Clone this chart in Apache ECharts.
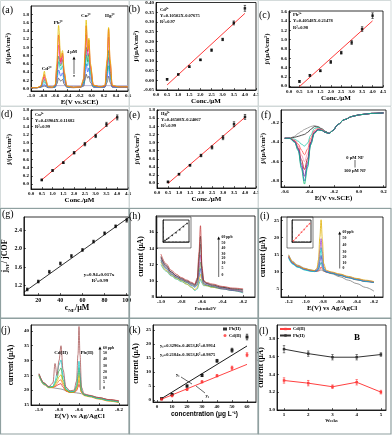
<!DOCTYPE html>
<html><head><meta charset="utf-8">
<script src="https://cdn.jsdelivr.net/npm/echarts@6/dist/echarts.min.js"></script>
<style>html,body{margin:0;padding:0;background:#fff}#c{width:392px;height:435px}</style>
</head><body><div id="c"></div>
<script>
// ================= DATA =================
// (a) DPV curves
const aX = [-1.0,-0.9,-0.84,-0.8,-0.78,-0.76,-0.72,-0.65,-0.6,-0.575,-0.545,-0.51,-0.48,-0.45,-0.41,-0.3,-0.18,-0.13,-0.11,-0.09,-0.065,-0.045,-0.02,0.03,0.15,0.22,0.255,0.28,0.305,0.34,0.45,0.6];
const aYellow = [0.02,0.02,0.06,0.28,0.42,0.26,0.05,0.03,0.1,0.6,1.53,0.75,0.92,0.4,0.06,0.03,0.04,0.25,0.9,1.66,0.95,1.22,0.6,0.08,0.04,0.08,0.7,1.48,0.7,0.08,0.04,0.04];
const aRed = [0.02,0.02,0.05,0.23,0.34,0.22,0.05,0.03,0.08,0.5,1.30,0.65,0.86,0.36,0.06,0.03,0.04,0.22,0.82,1.52,0.9,1.18,0.55,0.08,0.04,0.07,0.66,1.45,0.66,0.07,0.04,0.04];
const aMagenta = [0.02,0.02,0.05,0.2,0.28,0.19,0.04,0.03,0.07,0.42,1.05,0.6,0.8,0.32,0.05,0.03,0.04,0.2,0.72,1.3,0.8,1.05,0.5,0.07,0.04,0.06,0.57,1.25,0.57,0.06,0.04,0.04];
const aGreen = [0.02,0.02,0.04,0.16,0.22,0.15,0.04,0.03,0.06,0.32,0.78,0.55,0.7,0.28,0.05,0.03,0.04,0.15,0.55,1.0,0.65,0.85,0.4,0.06,0.04,0.05,0.42,0.92,0.42,0.05,0.04,0.04];
const aCyan = [0.02,0.02,0.04,0.12,0.16,0.11,0.03,0.03,0.05,0.27,0.65,0.45,0.55,0.22,0.04,0.03,0.04,0.13,0.45,0.82,0.55,0.7,0.33,0.05,0.04,0.05,0.35,0.75,0.35,0.05,0.04,0.04];
const aBlue = [0.02,0.02,0.03,0.08,0.10,0.07,0.03,0.03,0.04,0.19,0.45,0.3,0.38,0.16,0.04,0.03,0.03,0.1,0.33,0.6,0.4,0.5,0.24,0.04,0.03,0.04,0.26,0.55,0.26,0.04,0.03,0.03];
const aDark = [0.02,0.02,0.03,0.05,0.06,0.05,0.02,0.02,0.03,0.11,0.25,0.18,0.22,0.1,0.03,0.02,0.03,0.06,0.2,0.35,0.25,0.3,0.15,0.03,0.03,0.03,0.15,0.3,0.15,0.03,0.03,0.03];
const aFlatX = [-0.85, 0.6];
const aFlatY = [0.07, 0.07];

// (b)-(e) calibration
const conc = [0.5,1.0,1.5,2.0,2.5,3.0,3.5,4.0];
const bY = [0.005,0.03,0.07,0.105,0.155,0.21,0.295,0.37];
const bErr = [0.004,0.003,0.004,0.004,0.006,0.006,0.01,0.015];
const bFit = [[0.5,-0.024],[4.0,0.344]];
const cY = [0.1,0.23,0.33,0.52,0.72,0.94,1.23,1.52];
const cErr = [0.02,0.02,0.02,0.03,0.03,0.04,0.05,0.06];
const cFit = [[0.5,-0.012],[4.0,1.407]];
const dY = [0.1,0.33,0.52,0.76,0.97,1.17,1.45,1.62];
const dErr = [0.02,0.02,0.02,0.03,0.04,0.04,0.05,0.06];
const dFit = [[0.5,0.103],[4.0,1.639]];
const eY = [0.03,0.22,0.44,0.68,0.88,1.12,1.45,1.63];
const eErr = [0.02,0.02,0.02,0.03,0.04,0.05,0.06,0.06];
const eFit = [[0.5,-0.008],[4.0,1.62]];

// (f) NF curves
const fX = [-0.6,-0.56,-0.52,-0.49,-0.465,-0.44,-0.415,-0.39,-0.36,-0.33,-0.3,-0.27,-0.24,-0.21,-0.17,-0.12,-0.05,0.0,0.1,0.2];
const f0 = [-0.36,-0.36,-0.34,-0.31,-0.29,-0.27,-0.255,-0.24,-0.23,-0.24,-0.26,-0.29,-0.31,-0.28,-0.22,-0.17,-0.135,-0.12,-0.105,-0.1];
const f1 = [-0.36,-0.36,-0.35,-0.34,-0.33,-0.32,-0.3,-0.27,-0.24,-0.245,-0.265,-0.29,-0.31,-0.28,-0.22,-0.17,-0.135,-0.12,-0.105,-0.1];
const f2 = [-0.36,-0.36,-0.37,-0.39,-0.42,-0.44,-0.41,-0.33,-0.26,-0.25,-0.27,-0.295,-0.31,-0.28,-0.22,-0.17,-0.135,-0.12,-0.105,-0.1];
const f3 = [-0.36,-0.36,-0.38,-0.42,-0.48,-0.53,-0.47,-0.36,-0.28,-0.26,-0.27,-0.3,-0.31,-0.28,-0.22,-0.17,-0.135,-0.12,-0.105,-0.1];
const f4 = [-0.36,-0.36,-0.385,-0.44,-0.53,-0.6,-0.52,-0.38,-0.29,-0.265,-0.275,-0.3,-0.31,-0.28,-0.22,-0.17,-0.135,-0.12,-0.105,-0.1];
const f5 = [-0.36,-0.36,-0.39,-0.46,-0.58,-0.68,-0.57,-0.4,-0.3,-0.27,-0.28,-0.3,-0.31,-0.28,-0.22,-0.17,-0.135,-0.12,-0.105,-0.1];
const f6 = [-0.36,-0.36,-0.39,-0.47,-0.62,-0.75,-0.61,-0.41,-0.3,-0.27,-0.28,-0.3,-0.31,-0.28,-0.22,-0.17,-0.135,-0.12,-0.105,-0.1];
const f7 = [-0.36,-0.36,-0.4,-0.48,-0.65,-0.8,-0.64,-0.42,-0.31,-0.275,-0.28,-0.3,-0.31,-0.28,-0.22,-0.17,-0.135,-0.12,-0.105,-0.1];
const f8 = [-0.36,-0.36,-0.4,-0.49,-0.67,-0.83,-0.66,-0.43,-0.31,-0.275,-0.28,-0.3,-0.31,-0.28,-0.22,-0.17,-0.135,-0.12,-0.105,-0.1];

// (g) ratio vs NF
const gX = [10,20,30,40,50,60,70,80,90,100];
const gY = [1.12,1.29,1.50,1.68,1.84,1.97,2.15,2.33,2.48,2.61];
const gErr = [0.03,0.03,0.03,0.03,0.03,0.03,0.03,0.03,0.03,0.04];
const gFit = [[7,1.06],[103,2.69]];

// (h) Pb DPV
const hX = [-1.0,-0.95,-0.9,-0.85,-0.8,-0.75,-0.7,-0.67,-0.645,-0.63,-0.615,-0.6,-0.585,-0.56,-0.5,-0.4,-0.3,-0.2];
const h0 = [12.0,11.2,10.6,10.2,9.9,9.6,9.2,8.8,9.0,9.6,10.2,9.7,9.4,9.4,9.2,9.0,8.8,8.5];
const h5 = [12.3,11.3,10.7,10.3,10.0,9.6,9.2,8.9,9.2,10.0,10.8,10.0,9.5,9.4,9.2,9.0,8.8,8.6];
const h10 = [12.5,11.5,10.8,10.4,10.1,9.8,9.4,9.2,9.5,10.5,11.5,10.3,9.6,9.5,9.3,9.0,8.8,8.6];
const h20 = [12.6,11.6,10.9,10.4,10.1,9.8,9.5,9.3,9.7,11.0,12.3,10.6,9.7,9.5,9.3,9.1,8.9,8.7];
const h30 = [12.8,11.7,11.0,10.5,10.2,9.9,9.6,9.4,9.9,11.6,13.2,10.9,9.8,9.6,9.4,9.1,8.9,8.7];
const h40 = [12.9,11.8,11.1,10.6,10.2,9.9,9.6,9.4,10.0,12.2,14.5,11.2,9.9,9.7,9.4,9.2,9.0,8.8];
const h50 = [13.0,11.9,11.1,10.6,10.3,10.0,9.7,9.5,10.2,12.8,15.5,11.5,10.0,9.7,9.5,9.2,9.0,8.9];
const h60 = [13.3,12.1,11.3,10.8,10.4,10.1,9.8,9.6,10.4,13.5,16.8,11.8,10.1,9.8,9.6,9.3,9.1,9.0];
const hInsX = [0,5,10,20,30,40,50,60];
const hInsY = [0.6,1.1,1.6,2.7,3.8,5.0,6.3,7.6];
const hInsFit = [[0,0.5],[60,7.7]];
const hScale = ['60 ppb','50','40','30','20','10','5','0'];

// (i) Pb DPV 2
const iX = [-1.2,-1.15,-1.1,-1.0,-0.95,-0.9,-0.87,-0.85,-0.835,-0.82,-0.805,-0.79,-0.76,-0.7,-0.6,-0.5,-0.4,-0.3,-0.2];
const iGray = [15.0,13.0,12.0,11.0,10.6,10.4,10.3,10.3,10.4,10.6,10.4,10.2,10.0,9.5,8.6,7.6,6.6,5.5,4.4];
const iRed = [14.5,12.6,11.7,10.8,10.4,10.2,10.2,10.3,10.7,11.5,10.9,10.3,9.9,9.6,9.0,8.3,7.7,7.2,6.9];
const iTeal = [14.2,12.4,11.5,10.6,10.3,10.1,10.2,10.6,11.9,12.8,11.5,10.4,10.0,9.6,9.0,8.3,7.7,7.2,6.9];
const iBlue = [14.4,12.5,11.6,10.7,10.4,10.2,10.4,11.0,13.0,14.8,12.6,10.8,10.1,9.7,9.1,8.4,7.8,7.3,7.0];
const iCyan = [14.0,12.2,11.4,10.5,10.2,10.1,10.5,11.5,14.5,17.1,14.0,11.0,10.1,9.7,9.1,8.4,7.8,7.3,7.0];
const iPurple = [14.6,12.6,11.7,10.8,10.5,10.3,10.7,12.2,16.5,19.7,16.0,11.6,10.3,9.9,9.3,8.6,8.0,7.5,7.1];
const iYellow = [14.8,12.8,11.8,10.9,10.6,10.4,11.0,13.5,20.0,25.2,19.5,12.5,10.5,10.0,9.4,8.7,8.1,7.6,7.2];
const iInsX = [0,10,20,30,40,50,60];
const iInsY = [0.5,1.6,2.8,4.0,5.1,6.4,7.5];
const iInsFit = [[0,0.4],[60,7.6]];
const iScale = ['60 ppb','50','40','30','20','10','0'];

// (j) Cd + Pb DPV
const jX = [-1.0,-0.95,-0.9,-0.86,-0.84,-0.82,-0.8,-0.78,-0.76,-0.73,-0.69,-0.65,-0.625,-0.61,-0.6,-0.59,-0.575,-0.55,-0.5,-0.4,-0.3,-0.2];
const jBrown = [25.5,22.5,21.2,22.5,29.0,25.0,30.0,35.0,27.0,21.0,19.8,20.0,23.0,32.0,41.5,32.0,21.0,18.8,18.3,17.5,16.8,16.3];
const jCyan = [25.0,22.0,21.0,21.3,23.0,25.5,28.5,30.2,25.0,20.5,19.5,19.6,21.5,26.0,29.8,26.0,20.0,18.5,18.0,17.2,16.5,16.0];
const jGreen = [25.2,22.2,21.0,21.2,22.3,24.0,26.5,27.5,23.5,20.2,19.4,19.5,21.0,24.5,27.5,24.5,19.8,18.4,18.0,17.2,16.5,16.0];
const jYellow = [25.0,22.0,20.9,21.0,21.8,23.0,24.5,25.2,22.5,20.0,19.3,19.4,20.5,23.0,25.0,23.0,19.5,18.3,17.9,17.1,16.4,15.9];
const jOrange = [24.8,21.8,20.8,20.9,21.4,22.2,23.2,23.5,21.8,19.8,19.2,19.3,20.2,22.0,23.5,22.0,19.3,18.2,17.8,17.0,16.3,15.8];
const jRed = [25.3,22.3,21.0,21.0,21.2,21.6,22.0,22.2,21.0,19.7,19.2,19.3,19.8,21.0,22.0,21.0,19.2,18.4,18.1,17.4,16.8,16.4];
const jGray = [25.6,22.4,21.0,20.8,20.7,20.6,20.5,20.4,20.2,19.8,19.4,19.2,19.1,19.0,19.0,18.9,18.8,18.6,18.2,17.5,16.8,16.2];
const jScale = ['60 ppb','50','40','30','20','10','5','0'];

// (k) calibration Pb / Cd
const kX = [3,10,20,30,40,50,60];
const kPb = [0.5,2.0,5.0,8.8,14.0,17.8,22.5];
const kPbErr = [0.2,0.3,0.4,0.4,0.5,0.7,1.0];
const kCd = [0.3,1.5,3.8,6.5,8.7,11.5,16.2];
const kCdErr = [0.2,0.3,0.3,0.4,0.4,0.6,0.7];
const kPbFit = [[3,0.52],[60,19.31]];
const kCdFit = [[3,0.29],[60,12.74]];

// (l) stability
const lWeeks = [1,2,3,4,5];
const lPb = [3.68,3.63,3.59,3.59,3.62];
const lPbErr = [0.04,0.03,0.03,0.03,0.02];
const lCd = [3.33,3.30,3.26,3.31,3.20];
const lCdErr = [0.03,0.03,0.02,0.03,0.02];

// tick labels
const tA_x = [-1.0,-0.8,-0.6,-0.4,-0.2,0.0,0.2,0.4,0.6];
const t0to18 = [0,0.2,0.4,0.6,0.8,1.0,1.2,1.4,1.6,1.8];
const t0to16 = [0,0.2,0.4,0.6,0.8,1.0,1.2,1.4,1.6];
const tConc = [0,0.5,1.0,1.5,2.0,2.5,3.0,3.5,4.0,4.5];
const tB_y = [-0.05,0,0.05,0.10,0.15,0.20,0.25,0.30,0.35,0.40];
const tF_x = [-0.6,-0.4,-0.2,0.0,0.2];
const tF_y = [-0.8,-0.6,-0.4,-0.2];
const tG_x = [20,40,60,80,100];
const tG_y = [1.2,1.6,2.0,2.4];
const tH_x = [-1.0,-0.8,-0.6,-0.4,-0.2];
const tH_y = [8,10,12,14,16];
const tI_x = [-1.2,-1.0,-0.8,-0.6,-0.4,-0.2];
const tI_y = [5,10,15,20,25];
const tJ_y = [15,20,25,30,35,40];
const tK_x = [0,10,20,30,40,50,60];
const tK_y = [0,5,10,15,20,25];
const tL_x = [1,2,3,4,5];
const tL_y = [3.0,3.2,3.4,3.6,3.8];
const tIns_x = [0,20,40,60];
const tIns_y = [0,3,6,9];

// ================= BUILD =================
const SERIF = 'Liberation Serif';
const SANS = 'Liberation Sans';
const fmt = (v, d) => { const n = +v; return (Math.abs(n) < 1e-9 ? 0 : n).toFixed(d); };
const zip = (xs, ys) => xs.map((x, i) => [x, ys[i]]);

const grids = [
  {left:31, top:6, width:97, height:85},     // a
  {left:156, top:2, width:100, height:88},   // b
  {left:289, top:11, width:94, height:76},   // c
  {left:31, top:110, width:97, height:79},   // d
  {left:157, top:110, width:99, height:78},  // e
  {left:281, top:110, width:105, height:77}, // f
  {left:23, top:217, width:107, height:78},  // g
  {left:156, top:216, width:99, height:81},  // h
  {left:281, top:217, width:102, height:80}, // i
  {left:31, top:325, width:97, height:80},   // j
  {left:153, top:325, width:103, height:77}, // k
  {left:277, top:325, width:109, height:85}, // l
  {left:163, top:220, width:26, height:22},  // h inset
  {left:292, top:220, width:19, height:22}   // i inset
].map(g => Object.assign({show:true, borderColor:'#000', borderWidth:0.8, backgroundColor:'rgba(0,0,0,0)'}, g));

function axis(gi, min, max, ticks, dec, name, gap, nts, extra) {
  return Object.assign({
    type:'value', gridIndex:gi, min, max,
    axisLine:{show:true, onZero:false, lineStyle:{color:'#000', width:0.8}},
    axisTick:{show:true, inside:true, length:2, customValues:ticks, lineStyle:{color:'#000', width:0.6}},
    axisLabel:{show:true, customValues:ticks, fontSize:5, fontWeight:'bold', fontFamily:SERIF, color:'#000', margin:2,
      formatter: v => fmt(v, dec)},
    splitLine:{show:false},
    name, nameLocation:'middle', nameGap:gap,
    nameTextStyle:Object.assign({fontSize:7, fontWeight:'bold', fontFamily:SERIF, color:'#000'}, nts || {})
  }, extra || {});
}
const jName = 'j/(μA/cm²)';
const curName = 'current (μA)';
const subRich = {b:{fontSize:8, fontWeight:'bold', fontFamily:SERIF, color:'#000'}, s:{fontSize:5, fontWeight:'bold', fontFamily:SERIF, color:'#000', verticalAlign:'bottom', lineHeight:11}};
const insetExtra = {axisLabel:{show:false}, axisTick:{show:true, inside:true, length:1, lineStyle:{width:0.4}}, axisLine:{onZero:false, lineStyle:{color:'#000', width:0.5}}};

const xAxes = [
  axis(0, -1.0, 0.6, tA_x, 1, 'E(V vs.SCE)', 4.5),
  axis(1, 0, 4.5, tConc, 1, 'Conc./μM', 6),
  axis(2, 0, 4.5, tConc, 1, 'Conc./μM', 8),
  axis(3, 0, 4.5, tConc, 1, 'Conc./μM', 6),
  axis(4, 0, 4.5, tConc, 1, 'Conc./μM', 7),
  axis(5, -0.63, 0.22, tF_x, 1, 'E(V vs.SCE)', 6.5),
  axis(6, 7, 103, tG_x, 0, '{b|c}{s|NF}{b|/μM}', 5, {rich:subRich}, {axisLabel:{customValues:tG_x, fontSize:6, fontWeight:'bold', fontFamily:SERIF, color:'#000', margin:2}}),
  axis(7, -1.048, -0.084, tH_x, 1, 'Potential/V', 9, {fontSize:4.5}),
  axis(8, -1.29, -0.094, tI_x, 1, 'E(V) vs Ag/AgCl', 4),
  axis(9, -1.08, -0.11, tH_x, 1, 'E(V) vs Ag/AgCl', 6),
  axis(10, -2.7, 66, tK_x, 0, 'concentration (μg L⁻¹)', 8.5, {fontFamily:SANS, fontSize:6.5}),
  axis(11, 0.71, 5.21, tL_x, 0, 'Weeks', 7.5, {fontSize:4.5}),
  axis(12, -5, 65, tIns_x, 0, '', 0, null, insetExtra),
  axis(13, -5, 65, tIns_x, 0, '', 0, null, insetExtra)
];
const yAxes = [
  axis(0, -0.06, 2.0, t0to18, 1, jName, 19),
  axis(1, -0.05, 0.40, tB_y, 2, jName, 15.5),
  axis(2, -0.02, 1.62, t0to16, 1, jName, 18.5),
  axis(3, -0.12, 1.8, t0to18, 1, jName, 18.5),
  axis(4, -0.12, 1.8, t0to18, 1, jName, 16),
  axis(5, -0.86, -0.07, tF_y, 1, jName, 12.5),
  axis(6, 1.0, 2.68, tG_y, 1, '{b|j}{s|NF}{b|/ jCOF}', 11, {rich:subRich}, {axisLabel:{customValues:tG_y, fontSize:6, fontWeight:'bold', fontFamily:SERIF, color:'#000', margin:2, formatter:v=>fmt(v,1)}}),
  axis(7, 8, 18, tH_y, 0, curName, 6.5, {fontSize:7.5}),
  axis(8, 2.7, 26, tI_y, 0, curName, 14, {fontSize:7.5}),
  axis(9, 15, 42, tJ_y, 0, curName, 15.5, {fontSize:7.5}),
  axis(10, -0.7, 26.8, tK_y, 0, curName, 12.5, {fontSize:7.5}),
  axis(11, 3.0, 3.95, tL_y, 1, curName, 10, {fontSize:7.5}),
  axis(12, 0, 9, tIns_y, 0, '', 0, null, insetExtra),
  axis(13, 0, 9, tIns_y, 0, '', 0, null, insetExtra)
];

const series = [];
function curve(gi, xs, ys, color, w, smooth) {
  series.push({type:'line', xAxisIndex:gi, yAxisIndex:gi, data:zip(xs, ys), symbol:'none', showSymbol:false,
    smooth: smooth === undefined ? 0.35 : smooth, smoothMonotone:'x', lineStyle:{color, width:w || 0.8}, silent:true, z:3});
}
function pairLine(gi, pairs, color, w, name) {
  series.push({type:'line', name, xAxisIndex:gi, yAxisIndex:gi, data:pairs, symbol:'none', lineStyle:{color, width:w || 0.9}, silent:true, z:3});
}
function pts(gi, xs, ys, color, symbol, size, name) {
  series.push({type:'scatter', name, xAxisIndex:gi, yAxisIndex:gi, data:zip(xs, ys), symbol, symbolSize:size, itemStyle:{color}, silent:true, z:6});
}
function errs(gi, xs, ys, es, color) {
  series.push({type:'custom', xAxisIndex:gi, yAxisIndex:gi, z:5, silent:true,
    data: xs.map((x, i) => [x, ys[i] - es[i], ys[i] + es[i]]),
    encode:{x:0, y:[1, 2]},
    renderItem(params, api) {
      const x = api.value(0), lo = api.coord([x, api.value(1)]), hi = api.coord([x, api.value(2)]), w = 1.2;
      const st = {stroke:color, lineWidth:0.6};
      return {type:'group', children:[
        {type:'line', shape:{x1:lo[0], y1:lo[1], x2:hi[0], y2:hi[1]}, style:st},
        {type:'line', shape:{x1:lo[0]-w, y1:lo[1], x2:lo[0]+w, y2:lo[1]}, style:st},
        {type:'line', shape:{x1:hi[0]-w, y1:hi[1], x2:hi[0]+w, y2:hi[1]}, style:st}]};
    }});
}

// (a)
curve(0, aFlatX, aFlatY, '#a9a3c9', 0.8, false);
[[aDark,'#555555'],[aBlue,'#3a5cff'],[aCyan,'#10c8d0'],[aGreen,'#22a84e'],[aMagenta,'#f03cc8'],[aRed,'#ff2a2a'],[aYellow,'#e2c000']]
  .forEach(([d, c]) => curve(0, aX, d, c, 0.8));
// (b)-(e)
[[1,bY,bErr,bFit],[2,cY,cErr,cFit],[3,dY,dErr,dFit],[4,eY,eErr,eFit]].forEach(([gi, ys, es, fit]) => {
  pairLine(gi, fit, '#ff3a3a', 1);
  errs(gi, conc, ys, es, '#000');
  pts(gi, conc, ys, '#000', 'rect', 2.5);
});
// (f)
[[f0,'#8c8c8c'],[f1,'#222222'],[f2,'#1fc7a6'],[f3,'#ff5050'],[f4,'#ff8fb0'],[f5,'#b01010'],[f6,'#8a1a8a'],[f7,'#3048e0'],[f8,'#10c070']]
  .forEach(([d, c]) => curve(5, fX, d, c, 0.8));
// (g)
pairLine(6, gFit, '#000', 0.8);
errs(6, gX, gY, gErr, '#000');
pts(6, gX, gY, '#000', 'rect', 2.5);
// (h)
[[h0,'#20b0a0'],[h5,'#e0b000'],[h10,'#3050e0'],[h20,'#40b040'],[h30,'#c040c0'],[h40,'#7a7a7a'],[h50,'#303030'],[h60,'#c03030']]
  .forEach(([d, c]) => curve(7, hX, d, c, 0.7));
pairLine(12, hInsFit, '#000', 0.5);
pts(12, hInsX, hInsY, '#000', 'rect', 1.5);
// (i)
[[iGray,'#7d7d7d'],[iRed,'#ff3a3a'],[iTeal,'#1f9f9f'],[iBlue,'#3a3ac0'],[iCyan,'#10c8c8'],[iPurple,'#a048c8'],[iYellow,'#e0b000']]
  .forEach(([d, c]) => curve(8, iX, d, c, 0.8));
pairLine(13, iInsFit, '#ff4040', 0.5);
pts(13, iInsX, iInsY, '#ff4040', 'rect', 1.5);
// (j)
[[jGray,'#808080'],[jRed,'#e03030'],[jOrange,'#f08030'],[jYellow,'#e0c000'],[jGreen,'#40b040'],[jCyan,'#20c8c8'],[jBrown,'#a85858']]
  .forEach(([d, c]) => curve(9, jX, d, c, 0.8));
// (k)
pairLine(10, kPbFit, '#000', 0.9);
pairLine(10, kCdFit, '#ff3030', 0.9);
errs(10, kX, kPb, kPbErr, '#000');
errs(10, kX, kCd, kCdErr, '#ff3030');
pts(10, kX, kPb, '#000', 'rect', 3, 'Pb(II)');
pts(10, kX, kCd, '#ff3030', 'circle', 3, 'Cd(II)');
// (l)
errs(11, lWeeks, lPb, lPbErr, '#333');
errs(11, lWeeks, lCd, lCdErr, '#ff3030');
series.push({type:'line', name:'Cd(II) ', xAxisIndex:11, yAxisIndex:11, data:zip(lWeeks, lCd), symbol:'rect', symbolSize:2.5,
  lineStyle:{color:'#ff4040', width:1}, itemStyle:{color:'#ff4040'}, silent:true, z:6});
series.push({type:'line', name:'Pb(II) ', xAxisIndex:11, yAxisIndex:11, data:zip(lWeeks, lPb), symbol:'rect', symbolSize:2.5,
  lineStyle:{color:'#333', width:1}, itemStyle:{color:'#333'}, silent:true, z:6});

// ================= ANNOTATIONS =================
const G = [];
const T = (x, y, text, o) => G.push({type:'text', x, y, silent:true, z:50, style:Object.assign({text, fontSize:5, fontWeight:'bold', fontFamily:SERIF, fill:'#000', align:'left', verticalAlign:'middle'}, o || {})});
const L = (x1, y1, x2, y2, c, w) => G.push({type:'line', silent:true, z:50, shape:{x1, y1, x2, y2}, style:{stroke:c || '#000', lineWidth:w || 0.6}});
const ARW = (x, y, c) => G.push({type:'polygon', silent:true, z:50, shape:{points:[[x, y], [x - 1.5, y + 3], [x + 1.5, y + 3]]}, style:{fill:c || '#000'}});
const R = (x, y, w, h, c, lw) => G.push({type:'rect', silent:true, z:1, shape:{x, y, width:w, height:h}, style:{fill:'none', stroke:c, lineWidth:lw || 1}});

// panel frames
const colX = [[0.5,129],[129.5,258],[258.5,391]];
const rowY = [[0.5,106],[106.5,208],[208.5,318],[318.5,434]];
rowY.forEach(([y0, y1], r) => colX.forEach(([x0, x1]) => R(x0, y0, x1 - x0, y1 - y0, r < 2 ? '#c9d2d2' : '#8fa0a0', r < 2 ? 0.8 : 1.2)));

// panel labels
const PL = {fontSize:10, fontWeight:'normal', fontFamily:SERIF};
T(2, 10, '(a)', PL); T(128.5, 9, '(b)', PL); T(259, 15, '(c)', PL);
T(1, 114, '(d)', PL); T(129, 115, '(e)', PL); T(261, 115, '(f)', PL);
T(2, 214, '(g)', PL); T(129, 216, '(h)', PL); T(260, 216, '(i)', PL);
T(1, 330, '(j)', PL); T(129, 330, '(k)', PL); T(259, 331, '(l)', PL);

// (a)
const C5 = {align:'center', fontSize:5};
T(46.7, 69, 'Cd²⁺', C5); T(58.3, 22.5, 'Pb²⁺', C5); T(86, 16, 'Cu²⁺', C5); T(110, 16, 'Hg²⁺', C5);
T(72, 52, '4 μM', {align:'center', fontSize:4.5});
L(74, 58, 74, 74); ARW(74, 56.5); T(74, 76.5, '*', {align:'center', fontSize:5});
// (b)-(e)
const S45 = {fontSize:4.5};
T(160, 9.5, 'Cd²⁺', S45); T(160, 15.5, 'Y=0.10502X-0.07675', S45); T(160, 22, 'R²=0.97', S45);
T(293, 15, 'Pb²⁺', S45); T(293, 21, 'Y=0.40548X-0.21478', S45); T(293, 27.5, 'R²=0.98', S45);
T(35, 114.5, 'Cu²⁺', S45); T(35, 120.5, 'Y=0.43904X-0.11682', S45); T(35, 127, 'R²=0.99', S45);
T(161, 113.5, 'Hg²⁺', S45); T(161, 119.5, 'Y=0.46508X-0.24067', S45); T(161, 126, 'R²=0.99', S45);
// (f)
T(355, 157.5, '0 μM NF', {align:'center', fontSize:4.5}); L(355, 160, 355, 167.5); T(355, 170.5, '100 μM NF', {align:'center', fontSize:4.5});
// (g)
T(99, 275, 'y=0.94+0.017x', {align:'center', fontSize:5}); T(100, 281, 'R²=0.99', {align:'center', fontSize:5});
// insets frames
R(157, 217, 34, 31, '#000', 0.5); R(287, 217, 26, 31, '#000', 0.5);
// (h) scale
L(218.7, 239, 218.7, 277); ARW(218.7, 236.5);
const hY = [237.5, 242.7, 248.3, 254, 258.3, 262.7, 268.3, 275.5];
hScale.forEach((s, i) => T(221.5, hY[i], s, {fontSize:3.8}));
// (i) scale
L(339.7, 234, 339.7, 268.5); ARW(339.7, 231.5);
const iYs = [232.3, 238.3, 245, 251.7, 257.3, 262.7, 267.7];
iScale.forEach((s, i) => T(342.5, iYs[i], s, {fontSize:3.8}));
// (j)
T(61, 353, 'Cd(II)', {align:'center', fontSize:5}); T(87, 353, 'Pb(II)', {align:'center', fontSize:5});
L(100, 349, 100, 390); ARW(100, 346.5);
const jYs = [347.7, 353.3, 359.3, 365.7, 371.7, 377.7, 382.3, 388.3];
jScale.forEach((s, i) => T(103, jYs[i], s, {fontSize:3.8}));
// (k)
T(160, 345.5, 'y₁=0.3296x-0.4653,R²=0.9914', {fontSize:4.5}); T(160, 355, 'y₂=0.2184x-0.3653,R²=0.9875', {fontSize:4.5});
T(176, 374.5, 'y₁', {fontSize:4.5}); L(181, 377, 192, 384);
T(205.5, 396, 'y₂', {fontSize:4.5}); L(205, 393, 196, 386);
// (l)
T(357, 338, 'B', {fontSize:9, align:'center'});

const option = {
  animation:false,
  backgroundColor:'#fff',
  textStyle:{fontFamily:SERIF},
  grid:grids, xAxis:xAxes, yAxis:yAxes, series,
  legend:[
    {left:223, top:326.5, orient:'vertical', padding:0, itemGap:1.5, itemWidth:4, itemHeight:3, selectedMode:false,
      data:[{name:'Pb(II)', icon:'rect'}, {name:'Cd(II)', icon:'circle'}],
      textStyle:{fontSize:4.5, fontWeight:'bold', fontFamily:SERIF, color:'#000', padding:[0,0,0,-3]}},
    {left:279, top:326.5, orient:'vertical', padding:0, itemGap:1.5, itemWidth:11, itemHeight:3, selectedMode:false,
      data:['Cd(II) ', 'Pb(II) '],
      textStyle:{fontSize:4.5, fontWeight:'bold', fontFamily:SERIF, color:'#000', padding:[0,0,0,-3]}}
  ],
  graphic:G
};
const chart = echarts.init(document.getElementById('c'), null, {renderer:'canvas'});
chart.setOption(option);
</script>
</body></html>
